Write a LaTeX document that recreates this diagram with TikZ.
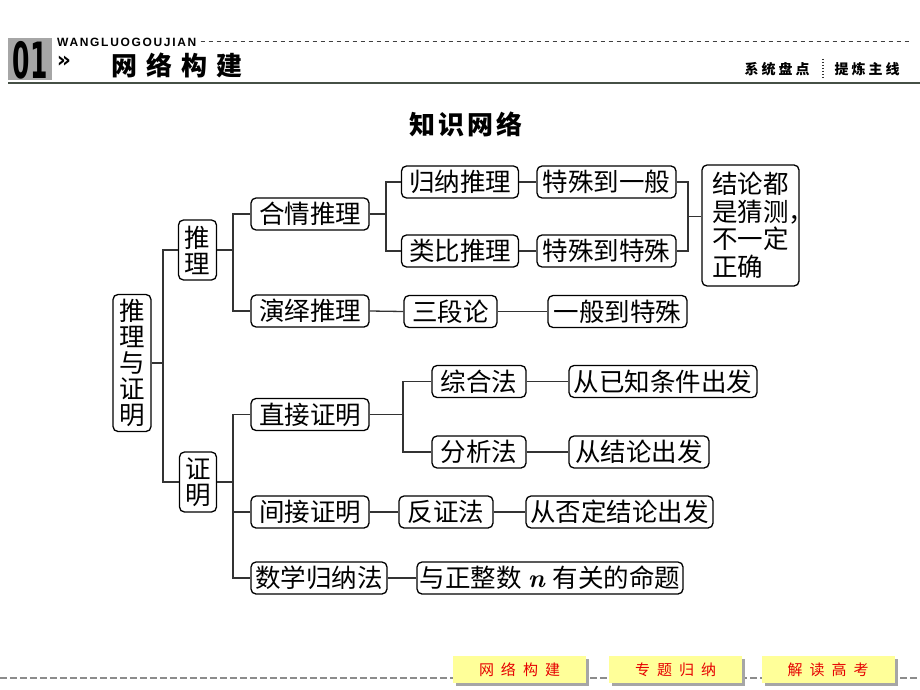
\documentclass[tikz,border=0pt]{standalone}
\usepackage{fontspec}
\usetikzlibrary{calc}
\newfontfamily\cjk{Noto Sans CJK SC}
\newfontfamily\hdr[LetterSpace=14]{Liberation Sans}
\newfontfamily\dej{DejaVu Sans}
\definecolor{btnyellow}{RGB}{255,255,153}
\definecolor{btnred}{RGB}{230,0,0}
\definecolor{hdrline}{RGB}{70,80,70}
\begin{document}
\begin{tikzpicture}[x=1pt,y=-1pt,
  box/.style={draw=black, rounded corners=5pt, line width=1.3pt, inner sep=0pt,
    minimum height=32pt, font=\cjk\fontsize{25.5}{26}\selectfont, align=center},
  link/.style={draw=black!80, line width=1.3pt},
  btn/.style={fill=btnyellow, draw=none, minimum width=133pt, minimum height=27pt,
    inner sep=0pt, text=btnred, font=\cjk\fontsize{15}{15}\selectfont},
  shadowbox/.style={fill=black!35, draw=none, minimum width=133pt, minimum height=27pt, inner sep=0pt}
]
\useasboundingbox (0,0) rectangle (920,690);
\fill[white] (0,0) rectangle (920,690);

% ---------- header ----------
\node[fill=black!35, minimum width=44pt, minimum height=42pt, inner sep=0pt] (numbox) at (30,59) {};
\node[inner sep=0pt] (num) at (30,60) {\scalebox{0.5}[1]{\dej\bfseries\fontsize{50}{50}\selectfont 01}};
\node[anchor=west, inner sep=0pt, font=\hdr\bfseries\fontsize{12}{12}\selectfont] (wl) at (57,42) {WANGLUOGOUJIAN};
\coordinate (dl1) at (910,42);
\draw[black!75, line width=1pt, dash pattern=on 4pt off 4pt] ($(wl.east)+(4,0)$) -- (dl1);
\node[inner sep=0pt, text height=8pt, text depth=0pt, font=\dej\bfseries\fontsize{22}{22}\selectfont] (arr) at (64,64) {»};
\node[inner sep=0pt, font=\cjk\bfseries\fontsize{26}{26}\selectfont] (hd) at (177,65) {网\hspace{9pt}络\hspace{9pt}构\hspace{9pt}建};
\coordinate (hl1) at (8,83);
\coordinate (hl2) at (920,83);
\draw[line width=2.4pt, color=hdrline] (hl1) -- (hl2);
\node[inner sep=0pt, font=\cjk\bfseries\fontsize{14}{14}\selectfont] (xt) at (777,69) {系\hspace{3pt}统\hspace{3pt}盘\hspace{3pt}点};
\node[inner sep=0pt, font=\cjk\bfseries\fontsize{14}{14}\selectfont] (tl2) at (867,69) {提\hspace{3pt}炼\hspace{3pt}主\hspace{3pt}线};
\coordinate (sp1) at (823,59);
\coordinate (sp2) at (823,79);
\draw[black!80, line width=1.2pt, dash pattern=on 1.5pt off 1.5pt] (sp1) -- (sp2);

% ---------- title ----------
\node[inner sep=0pt, font=\cjk\bfseries\fontsize{26}{26}\selectfont] (title) at (466,124) {知\hspace{3pt}识\hspace{3pt}网\hspace{3pt}络};

% ---------- nodes ----------
\node[box, minimum width=38pt, minimum height=137pt] (root) at (132,363) {推\\理\\与\\证\\明};
\node[box, minimum width=38pt, minimum height=60pt] (tl) at (197.5,250) {推\\理};
\node[box, minimum width=37pt, minimum height=60pt] (zm) at (198,482) {证\\明};

\node[box, minimum width=118pt] (hq) at (310,214) {合情推理};
\node[box, minimum width=118pt] (yy) at (310,311) {演绎推理};
\node[box, minimum width=117pt] (gn) at (460,182) {归纳推理};
\node[box, minimum width=117pt] (lb) at (460,251) {类比推理};
\node[box, minimum width=139pt] (tsy) at (606.5,182) {特殊到一般};
\node[box, minimum width=139pt] (tst) at (606.5,251) {特殊到特殊};
\node[box, minimum width=97pt, minimum height=121pt, align=left, font=\cjk\fontsize{25.5}{27.5}\selectfont] (jl) at (750.5,225.5) {结论都\\是猜测\rlap{，}\\不一定\\正确};
\node[box, minimum width=93pt] (sdl) at (450.5,311.5) {三段论};
\node[box, minimum width=139pt] (ybt) at (617.5,311.5) {一般到特殊};

\node[box, minimum width=118pt] (zj) at (310,414.5) {直接证明};
\node[box, minimum width=94pt] (zh) at (479,381.5) {综合法};
\node[box, minimum width=94pt] (fx) at (479,452) {分析法};
\node[box, minimum width=188pt] (cy) at (663,381.5) {从已知条件出发};
\node[box, minimum width=140pt] (cj) at (639,452) {从结论出发};
\node[box, minimum width=118pt] (jj) at (310,512) {间接证明};
\node[box, minimum width=94pt] (fz) at (446,512) {反证法};
\node[box, minimum width=187pt] (cf) at (619.5,512) {从否定结论出发};
\node[box, minimum width=136pt] (sx) at (319,578) {数学归纳法};
\node[box, minimum width=266pt] (yz) at (550,578) {与正整数\hspace{6pt}{\rmfamily\bfseries\itshape\fontsize{26}{26}\selectfont n}\hspace{8pt}有关的命题};

% ---------- connectors ----------
\coordinate (j0) at (163,0);
\coordinate (j1) at (233,0);
\coordinate (j2) at (386,0);
\coordinate (j3) at (688,0);
\coordinate (j4) at (403,0);

\draw[link] (root.east) -- (root.east -| j0);
\draw[link] (tl.west) -- (tl.west -| j0) -- (zm.west -| j0) -- (zm.west);

\draw[link] (tl.east) -- (tl.east -| j1);
\draw[link] (hq.west) -- (hq.west -| j1) -- (yy.west -| j1) -- (yy.west);

\draw[link] (hq.east) -- (hq.east -| j2);
\draw[link] (gn.west) -- (gn.west -| j2) -- (lb.west -| j2) -- (lb.west);

\draw[link] (gn.east) -- (tsy.west);
\draw[link] (lb.east) -- (tst.west);
\draw[link] (tsy.east) -- (tsy.east -| j3) -- (tst.east -| j3) -- (tst.east);
\coordinate (j3m) at ($(tsy.east -| j3)!0.5!(tst.east -| j3)$);
\draw[link] (j3m) -- (j3m -| jl.west);

\draw[link] (yy.east) -- (sdl.west);
\draw[link] (sdl.east) -- (ybt.west);

\draw[link] (zm.east) -- (zm.east -| j1);
\draw[link] (zj.west) -- (zj.west -| j1) -- (sx.west -| j1) -- (sx.west);
\draw[link] (jj.west) -- (jj.west -| j1);

\draw[link] (zj.east) -- (zj.east -| j4);
\draw[link] (zh.west) -- (zh.west -| j4) -- (fx.west -| j4) -- (fx.west);
\draw[link] (zh.east) -- (cy.west);
\draw[link] (fx.east) -- (cj.west);

\draw[link] (jj.east) -- (fz.west);
\draw[link] (fz.east) -- (cf.west);
\draw[link] (sx.east) -- (yz.west);

% ---------- footer ----------
\coordinate (fl1) at (0,678);
\coordinate (fl2) at (920,678);
\draw[black!45, line width=1.2pt, dash pattern=on 7pt off 3pt] (fl1) -- (fl2);
\node[shadowbox] (s1) at (522.5,672.5) {};
\node[shadowbox] (s2) at (678.5,672.5) {};
\node[shadowbox] (s3) at (831,672.5) {};
\node[btn] (b1) at (519.5,669.5) {网\hspace{7pt}络\hspace{7pt}构\hspace{7pt}建};
\node[btn] (b2) at (675.5,669.5) {专\hspace{7pt}题\hspace{7pt}归\hspace{7pt}纳};
\node[btn] (b3) at (828,669.5) {解\hspace{7pt}读\hspace{7pt}高\hspace{7pt}考};
\end{tikzpicture}
\end{document}
